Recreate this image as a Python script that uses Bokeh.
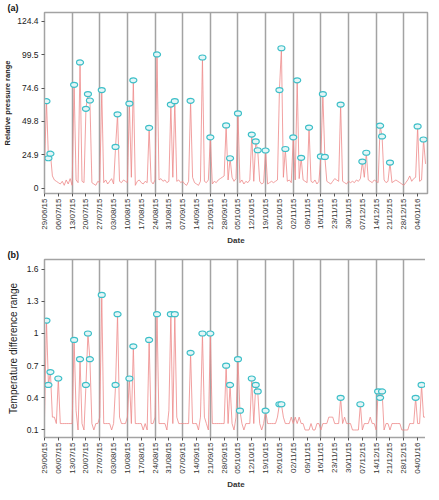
import math
from bokeh.plotting import figure
from bokeh.layouts import column
from bokeh.models import Range1d, FixedTicker, ColumnDataSource
from bokeh.embed import file_html
from bokeh.resources import INLINE

# ---------------- data ----------------
# x axis: day index since 29/06/15 (one value per day)
x_tick_days = [0, 7, 14, 21, 28, 35, 42, 49, 56, 63, 70, 77, 84, 91, 98, 105,
               112, 119, 126, 133, 140, 147, 154, 161, 168, 175, 182, 189]
x_tick_labels = ["29/06/15", "06/07/15", "13/07/15", "20/07/15", "27/07/15", "03/08/15",
                 "10/08/15", "17/08/15", "24/08/15", "31/08/15", "07/09/15", "14/09/15",
                 "21/09/15", "28/09/15", "05/10/15", "12/10/15", "19/10/15", "26/10/15",
                 "02/11/15", "09/11/15", "16/11/15", "23/11/15", "30/11/15", "07/12/15",
                 "14/12/15", "21/12/15", "28/12/15", "04/01/16"]

# (a) relative pressure range, daily
pressure = [16, 64.8, 22.2, 25.6, 9, 6, 5, 4, 3, 5, 2, 6, 3, 7, 2,
            77.0, 6, 4, 93.7, 5, 4, 59.1, 70.1, 65.3, 4, 3, 2, 5, 4, 73.1,
            4, 6, 3, 5, 7, 3, 30.7, 55.0, 5, 4, 6, 5, 4, 63.0, 8,
            80.4, 2, 5, 6, 4, 3, 5, 4, 44.9, 5, 3, 6, 99.7, 6, 7,
            5, 6, 4, 5, 62.3, 8, 64.8, 5, 6, 4, 5, 3, 2, 5, 65.1,
            8, 4, 3, 2, 5, 97.4, 5, 4, 6, 37.8, 3, 5, 4, 6, 7,
            8, 9, 46.7, 6, 22.2, 8, 5, 7, 55.7, 4, 6, 3, 5, 4, 6,
            39.9, 5, 34.8, 28.2, 5, 3, 4, 28.0, 3, 4, 5, 4, 5, 6, 73.1,
            104.3, 8, 29.1, 5, 6, 4, 37.8, 6, 80.4, 7, 22.5, 6, 5, 4, 45.1,
            5, 4, 6, 3, 5, 23.6, 70.1, 23.2, 5, 4, 3, 5, 7, 6, 5,
            62.3, 5, 4, 3, 5, 4, 5, 4, 6, 5, 7, 19.7, 8, 26.3, 6,
            5, 4, 6, 5, 4, 46.5, 38.5, 6, 4, 5, 19.0, 4, 5, 6, 5,
            4, 3, 2, 4, 6, 9, 5, 7, 8, 46.0, 5, 6, 36.2, 18]
pressure_peak_days = [1, 2, 3, 15, 18, 21, 22, 23, 29, 36, 37, 43, 45, 53, 57, 64, 66,
                      74, 80, 84, 92, 94, 98, 105, 107, 108, 112, 119, 120, 122, 126,
                      128, 130, 134, 140, 141, 142, 150, 161, 163, 170, 171, 175, 189, 192]
pressure_ticks = [0, 24.88, 49.76, 74.64, 99.52, 124.4]
pressure_tick_labels = ["0", "24.9", "49.8", "74.6", "99.5", "124.4"]

# (b) temperature difference range, daily
temperature = [0.22, 1.12, 0.52, 0.64, 0.22, 0.22, 0.16, 0.58, 0.16, 0.16, 0.16, 0.16, 0.16, 0.16, 0.16,
               0.94, 0.28, 0.1, 0.76, 0.16, 0.1, 0.52, 1.0, 0.76, 0.16, 0.1, 0.16, 0.16, 0.22, 1.36,
               0.16, 0.16, 0.16, 0.16, 0.1, 0.16, 0.52, 1.18, 0.22, 0.16, 0.16, 0.16, 0.22, 0.58, 0.16,
               0.88, 0.16, 0.16, 0.16, 0.16, 0.1, 0.16, 0.1, 0.94, 0.16, 0.16, 0.22, 1.18, 0.16, 0.16,
               0.16, 0.16, 0.1, 0.28, 1.18, 0.16, 1.18, 0.22, 0.16, 0.16, 0.16, 0.16, 0.16, 0.16, 0.82,
               0.16, 0.16, 0.16, 0.1, 0.22, 1.0, 0.22, 0.16, 0.1, 1.0, 0.16, 0.16, 0.16, 0.16, 0.16,
               0.16, 0.16, 0.70, 0.16, 0.52, 0.16, 0.1, 0.22, 0.76, 0.28, 0.16, 0.1, 0.16, 0.16, 0.16,
               0.58, 0.16, 0.52, 0.46, 0.16, 0.1, 0.16, 0.28, 0.16, 0.16, 0.16, 0.16, 0.16, 0.22, 0.34,
               0.34, 0.22, 0.16, 0.16, 0.16, 0.22, 0.16, 0.22, 0.16, 0.22, 0.16, 0.16, 0.1, 0.1, 0.1,
               0.16, 0.1, 0.1, 0.16, 0.16, 0.1, 0.16, 0.16, 0.16, 0.22, 0.22, 0.22, 0.16, 0.16, 0.16,
               0.40, 0.16, 0.22, 0.16, 0.16, 0.16, 0.1, 0.1, 0.1, 0.1, 0.34, 0.1, 0.16, 0.16, 0.16,
               0.22, 0.16, 0.16, 0.1, 0.46, 0.40, 0.46, 0.1, 0.16, 0.16, 0.1, 0.16, 0.16, 0.16, 0.16,
               0.16, 0.1, 0.1, 0.1, 0.1, 0.16, 0.16, 0.16, 0.40, 0.16, 0.16, 0.52, 0.22, 0.22]
temperature_peak_days = [1, 2, 3, 7, 15, 18, 21, 22, 23, 29, 36, 37, 43, 45, 53, 57, 64, 66,
                         74, 80, 84, 92, 94, 98, 99, 105, 107, 108, 112, 119, 120, 150, 160,
                         169, 170, 171, 188, 191]
temperature_ticks = [0.1, 0.4, 0.7, 1.0, 1.3, 1.6]
temperature_tick_labels = ["0.1", "0.4", "0.7", "1", "1.3", "1.6"]

days = list(range(len(pressure)))
grid_days = x_tick_days[2::2]

FONT = "Liberation Sans"
LINE_COLOR = "#ee8a8a"
MARK_LINE = "#3dbfc8"
MARK_FILL = "#e4f6f7"
GREY = "#a3a3a3"
X_END = 194


def make_panel(values, peak_days, yticks, ylabels, yrange, ylabel, ylabel_style,
               ylabel_size, ylabel_standoff, tag, frame_h):
    p = figure(frame_width=383, frame_height=frame_h,
               x_range=Range1d(0, X_END), y_range=Range1d(*yrange),
               output_backend="svg", toolbar_location=None,
               min_border_left=38, min_border_right=2,
               min_border_top=0, min_border_bottom=0)
    p.background_fill_color = "white"
    p.outline_line_color = GREY
    p.outline_line_width = 1.5

    # panel tag as a left-aligned title pulled over the y-axis area
    p.title.text = tag
    p.title.align = "left"
    p.title.offset = -37
    p.title.standoff = 0
    p.title.text_font = FONT
    p.title.text_font_size = "9px"
    p.title.text_font_style = "bold"
    p.title.text_color = "#111111"

    # x axis
    xa = p.xaxis[0]
    xa.ticker = FixedTicker(ticks=x_tick_days)
    xa.major_label_overrides = {d: l for d, l in zip(x_tick_days, x_tick_labels)}
    xa.major_label_orientation = math.pi / 2
    xa.major_label_text_font = FONT
    xa.major_label_text_font_size = "8px"
    xa.major_label_text_color = "#333333"
    xa.major_label_standoff = 2
    xa.axis_label = "Date"
    xa.axis_label_text_font = FONT
    xa.axis_label_text_font_size = "8px"
    xa.axis_label_text_font_style = "bold"
    xa.axis_label_text_color = "#333333"
    xa.axis_label_standoff = 3
    xa.axis_line_color = GREY
    xa.major_tick_line_color = "#555555"
    xa.major_tick_out = 3
    xa.major_tick_in = 0
    xa.minor_tick_line_color = None

    # y axis
    ya = p.yaxis[0]
    ya.ticker = FixedTicker(ticks=yticks)
    ya.major_label_overrides = {t: l for t, l in zip(yticks, ylabels)}
    ya.major_label_text_font = FONT
    ya.major_label_text_font_size = "8.5px"
    ya.major_label_text_color = "#222222"
    ya.major_label_standoff = 3
    ya.axis_label = ylabel
    ya.axis_label_text_font = FONT
    ya.axis_label_text_font_size = ylabel_size
    ya.axis_label_text_font_style = ylabel_style
    ya.axis_label_text_color = "#222222"
    ya.axis_label_standoff = ylabel_standoff
    ya.axis_line_color = GREY
    ya.major_tick_line_color = "#555555"
    ya.major_tick_out = 3
    ya.major_tick_in = 0
    ya.minor_tick_line_color = None

    # grids
    p.xgrid.ticker = FixedTicker(ticks=grid_days)
    p.xgrid.grid_line_color = GREY
    p.xgrid.grid_line_width = 1.5
    p.ygrid.grid_line_color = None

    p.line(days, values, line_color=LINE_COLOR, line_alpha=0.8, line_width=1)

    src = ColumnDataSource(dict(x=peak_days, y=[values[d] for d in peak_days]))
    p.ellipse(x="x", y="y", width=7, height=5, width_units="screen", height_units="screen",
              source=src, fill_color=MARK_FILL, line_color=MARK_LINE, line_width=1.2)
    return p


pa = make_panel(pressure, pressure_peak_days, pressure_ticks, pressure_tick_labels,
                (-4.1, 131), "Relative pressure range", "bold", "7.5px", 2, "(a)", 181)
pb = make_panel(temperature, temperature_peak_days, temperature_ticks, temperature_tick_labels,
                (0.03, 1.69), "Temperature difference range", "normal", "10px", 5, "(b)", 178)

layout = column(pa, pb, spacing=0)
open("out.html", "w").write(file_html(layout, INLINE))
